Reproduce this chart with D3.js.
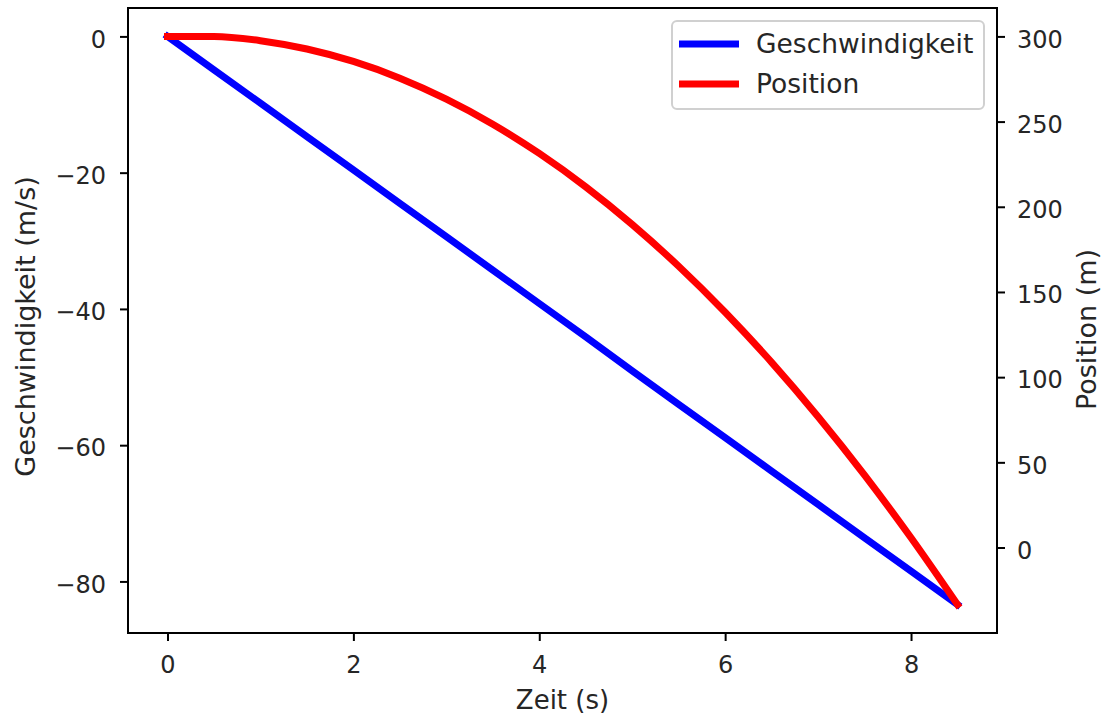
<!DOCTYPE html>
<html>
<head>
<meta charset="utf-8">
<script src="https://cdn.jsdelivr.net/npm/d3@7"></script>
<style>
  body { margin: 0; background: #fff; }
  svg text { font-family: "DejaVu Sans", sans-serif; fill: #262626; }
</style>
</head>
<body>
<svg id="chart" width="1104" height="717"></svg>
<script>
// time steps (s)
const zeit = [0, 0.5, 1, 1.5, 2, 2.5, 3, 3.5, 4, 4.5, 5, 5.5, 6, 6.5, 7, 7.5, 8, 8.5];
// velocity (m/s)
const geschwindigkeit = [0, -4.9, -9.8, -14.7, -19.6, -24.5, -29.4, -34.3, -39.2, -44.1,
  -49.1, -54.0, -58.9, -63.8, -68.7, -73.6, -78.5, -83.4];
// position (m)
const position = [300, 300, 297.5, 292.6, 285.3, 275.5, 263.2, 248.5, 231.3, 211.7,
  189.6, 165.1, 138.1, 108.7, 76.8, 42.5, 5.7, -33.5];

const xTicks = [0, 2, 4, 6, 8];
const leftTicks = [0, -20, -40, -60, -80];
const rightTicks = [0, 50, 100, 150, 200, 250, 300];

const margin = { left: 128, top: 8 };
const width = 997 - 128, height = 633 - 8;

const svg = d3.select("#chart");
const g = svg.append("g").attr("transform", `translate(${margin.left},${margin.top})`);

// matplotlib-like 5% padding
const pad = (lo, hi) => { const d = (hi - lo) * 0.05; return [lo - d, hi + d]; };

const x = d3.scaleLinear().domain(pad(d3.min(zeit), d3.max(zeit))).range([0, width]);
const yL = d3.scaleLinear().domain(pad(d3.min(geschwindigkeit), d3.max(geschwindigkeit))).range([height, 0]);
const yR = d3.scaleLinear().domain(pad(d3.min(position), d3.max(position))).range([height, 0]);

const fmt = d => d < 0 ? "\u2212" + Math.abs(d) : String(d);

const styleAxis = (sel, vertical) => {
  sel.select(".domain").remove();
  sel.selectAll(".tick line").attr("stroke", "#000").attr("stroke-width", 2);
  sel.selectAll(".tick text").attr("font-size", 24).attr("fill", "#262626");
  if (vertical) sel.selectAll(".tick text").attr("dy", "0.45em");
};

g.append("g").attr("transform", `translate(0,${height})`)
  .call(d3.axisBottom(x).tickValues(xTicks).tickFormat(fmt).tickSize(8).tickPadding(15))
  .call(styleAxis, false);

g.append("g")
  .call(d3.axisLeft(yL).tickValues(leftTicks).tickFormat(fmt).tickSize(8).tickPadding(14))
  .call(styleAxis, true);

g.append("g").attr("transform", `translate(${width},0)`)
  .call(d3.axisRight(yR).tickValues(rightTicks).tickFormat(fmt).tickSize(8).tickPadding(12))
  .call(styleAxis, true);

// lines
const lineV = d3.line().x((d, i) => x(zeit[i])).y(d => yL(d));
const lineP = d3.line().x((d, i) => x(zeit[i])).y(d => yR(d)).curve(d3.curveMonotoneX);

g.append("path").datum(geschwindigkeit)
  .attr("d", lineV).attr("fill", "none").attr("stroke", "blue")
  .attr("stroke-width", 7).attr("stroke-linecap", "square");
g.append("path").datum(position)
  .attr("d", lineP).attr("fill", "none").attr("stroke", "red")
  .attr("stroke-width", 7).attr("stroke-linecap", "square");

// frame
g.append("rect").attr("width", width).attr("height", height)
  .attr("fill", "none").attr("stroke", "#000").attr("stroke-width", 2);

// axis labels
g.append("text").attr("x", width / 2).attr("y", 701)
  .attr("text-anchor", "middle").attr("font-size", 26).text("Zeit (s)");
g.append("text").attr("transform", `translate(${-93},${height / 2 + 6}) rotate(-90)`)
  .attr("text-anchor", "middle").attr("font-size", 27).text("Geschwindigkeit (m/s)");
g.append("text").attr("transform", `translate(${width + 99},${height / 2 + 9}) rotate(-90)`)
  .attr("text-anchor", "middle").attr("font-size", 27).text("Position (m)");

// legend
const series = [
  { name: "Geschwindigkeit", color: "blue" },
  { name: "Position", color: "red" }
];
const lg = svg.append("g").attr("transform", "translate(672,21)");
lg.append("rect").attr("width", 312).attr("height", 88).attr("rx", 5)
  .attr("fill", "#fff").attr("fill-opacity", 0.8).attr("stroke", "#d0d0d0").attr("stroke-width", 2);
const items = lg.selectAll(".item").data(series).join("g")
  .attr("class", "item").attr("transform", (d, i) => `translate(0,${23 + i * 40})`);
items.append("line").attr("x1", 7).attr("x2", 67)
  .attr("stroke", d => d.color).attr("stroke-width", 7);
items.append("text").attr("x", 84).attr("dy", "0.35em")
  .attr("font-size", 26.5).text(d => d.name);
</script>
</body>
</html>
